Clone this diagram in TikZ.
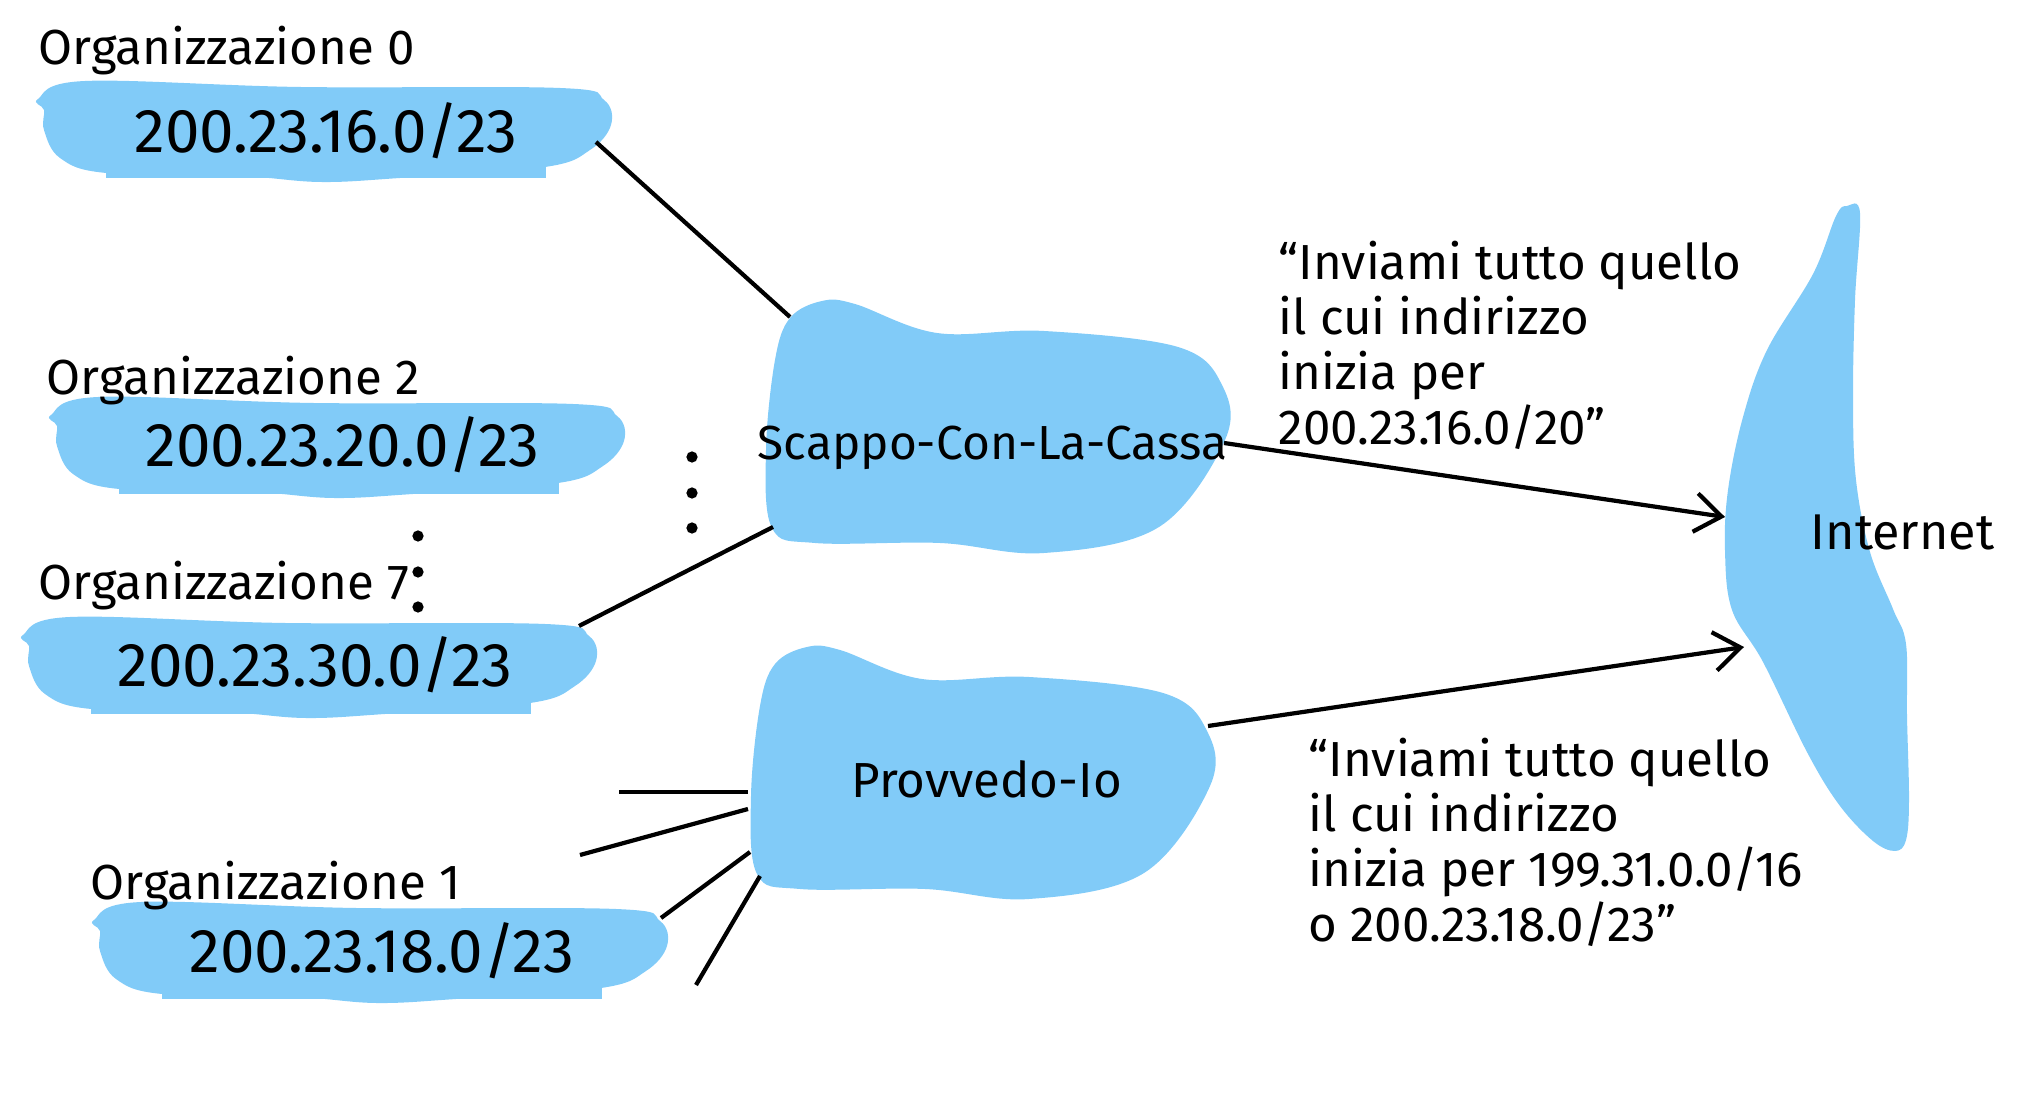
\documentclass[tikz,border=0pt]{standalone}
\usepackage{fontspec}
\setmainfont{Fira Sans}
\usetikzlibrary{arrows.meta}
\definecolor{cloudblue}{RGB}{129,203,248}
\tikzset{
  lbl/.style={font=\fontsize{14}{16}\selectfont, inner sep=0pt, anchor=base west},
  iplbl/.style={font=\fontsize{17.6}{19}\selectfont, inner sep=0pt, anchor=base west},
  note/.style={font=\fontsize{14}{15.7}\selectfont, inner sep=0pt, align=left, anchor=base west},
  link/.style={draw=black, line width=1.2pt},
  adv/.style={draw=black, line width=1.2pt, -{Straight Barb[length=7.5pt,width=11pt]}},
  orgblob/.pic={
    \fill[cloudblue] plot[smooth cycle, tension=0.6] coordinates {(38,99) (85,81) (300,87) (560,88) (604,100) (611,125) (590,150) (545,167) (400,178) (320,182) (240,176) (106,173) (60,158) (44,130) (44,110)};
    \fill[cloudblue] (106,166) rectangle (546,178);
  },
  ispblob/.pic={
    \fill[cloudblue] plot[smooth cycle, tension=0.6] coordinates {(790,318) (822,301) (855,304) (937,333) (1044,331) (1178,347) (1222,385) (1225,440) (1159,527) (1044,553) (940,543) (815,543) (772,528) (766,450) (775,360)};
  }
}

\begin{document}
\begin{tikzpicture}[x=0.01cm, y=-0.01cm]
  \useasboundingbox (0,0) rectangle (2024,1098);

  % organizzazioni
  \pic at (0,0) {orgblob};
  \pic at (13,316) {orgblob};
  \pic at (-15,536) {orgblob};
  \pic at (56,821) {orgblob};

  % ISP e Internet
  \pic at (0,0) {ispblob};
  \pic at (-15,346) {ispblob};
  \fill[cloudblue] plot[smooth cycle, tension=0.6] coordinates {(1847,206) (1860,213) (1855,300) (1853,400) (1856,480) (1870,552) (1893,609) (1906,644) (1907,716) (1909,800) (1906,840) (1895,851) (1873,841) (1840,806) (1808,754) (1763,662) (1732,610) (1725,551) (1728,490) (1743,417) (1767,350) (1813,274) (1836,216)};

  \node[lbl] (org0) at (38,65) {Organizzazione 0};
  \node[lbl] (org2) at (46,395) {Organizzazione 2};
  \node[lbl] (org7) at (38,600) {Organizzazione 7};
  \node[lbl] (org1) at (90,900) {Organizzazione 1};

  \node[iplbl] (ip0) at (134,153) {200.23.16.0/23};
  \node[iplbl] (ip2) at (145,467) {200.23.20.0/23};
  \node[iplbl] (ip7) at (117,687) {200.23.30.0/23};
  \node[iplbl] (ip1) at (189,973) {200.23.18.0/23};

  \node[lbl, font=\fontsize{13.6}{16}\selectfont] (scappo) at (757,460) {Scappo-Con-La-Cassa};
  \node[lbl] (provvedo) at (851,798) {Provvedo-Io};
  \node[lbl, font=\fontsize{14.3}{16}\selectfont] (inet) at (1810,550) {Internet};

  \node[note] (msgA) at (1278,445) {“Inviami tutto quello\\il cui indirizzo\\inizia per\\200.23.16.0/20”};
  \node[note] (msgB) at (1308,942) {“Inviami tutto quello\\il cui indirizzo\\inizia per 199.31.0.0/16\\o 200.23.18.0/23”};

  % punti di aggancio
  \coordinate (o0) at (596,142);
  \coordinate (o7) at (579,626);
  \coordinate (sA) at (790,317);
  \coordinate (sB) at (773,527);
  \coordinate (sOut) at (1224,443);
  \coordinate (pOut) at (1208,726);
  \coordinate (iA) at (1725,517);
  \coordinate (iB) at (1744,647);
  \coordinate (pa) at (748,792);
  \coordinate (pb) at (748,809);
  \coordinate (pc) at (750,852);
  \coordinate (pd) at (760,876);
  \coordinate (fa) at (619,792);
  \coordinate (fb) at (580,855);
  \coordinate (o1) at (661,918);
  \coordinate (fd) at (696,985);

  \draw[link] (o0) -- (sA);
  \draw[link] (o7) -- (sB);
  \draw[adv] (sOut) -- (iA);
  \draw[adv] (pOut) -- (iB);
  \draw[link] (fa) -- (pa);
  \draw[link] (fb) -- (pb);
  \draw[link] (o1) -- (pc);
  \draw[link] (fd) -- (pd);

  % puntini
  \foreach \yy in {536,572,607} \fill (418,\yy) circle[radius=1.6pt];
  \foreach \yy in {457,493,528} \fill (692,\yy) circle[radius=1.6pt];
\end{tikzpicture}
\end{document}
